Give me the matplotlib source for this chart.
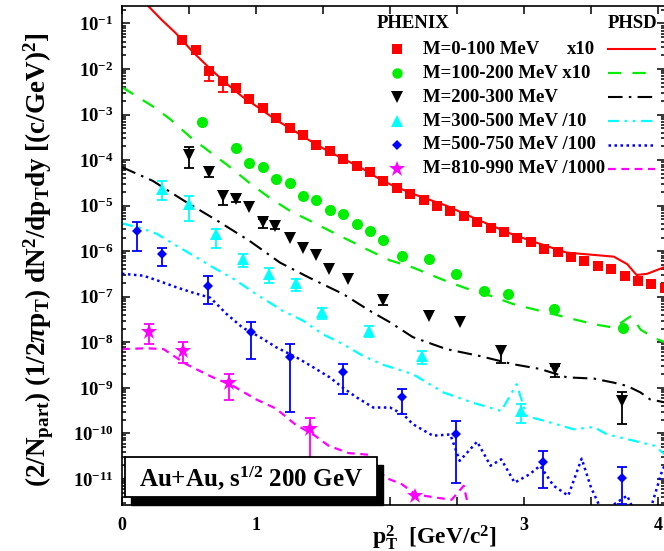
import numpy as np
import matplotlib
matplotlib.use('Agg')
import matplotlib.pyplot as plt
from matplotlib.lines import Line2D
from matplotlib.patches import Rectangle
from matplotlib.ticker import LogLocator, NullFormatter, FixedLocator

plt.rcParams['font.family'] = ['Liberation Serif', 'DejaVu Serif']
plt.rcParams['font.weight'] = 'bold'
plt.rcParams['mathtext.fontset'] = 'custom'
plt.rcParams['mathtext.rm'] = 'Liberation Serif:bold'
plt.rcParams['mathtext.it'] = 'Liberation Serif:bold:italic'
plt.rcParams['mathtext.bf'] = 'Liberation Serif:bold'

# ---- PHENIX data points ----
red_x = [0.45, 0.55, 0.65, 0.75, 0.85, 0.95, 1.05, 1.15, 1.25, 1.35, 1.45, 1.55, 1.65,
         1.75, 1.85, 1.95, 2.05, 2.15, 2.25, 2.35, 2.45, 2.55, 2.65, 2.75, 2.85, 2.95,
         3.05, 3.15, 3.25, 3.35, 3.45, 3.55, 3.65, 3.75, 3.85, 3.95, 4.05]
red_y = [4.4e-2, 2.6e-2, 9.0e-3, 5.4e-3, 3.9e-3, 2.2e-3, 1.4e-3, 8.5e-4, 5.1e-4, 3.5e-4,
         2.2e-4, 1.6e-4, 1.06e-4, 7.3e-5, 5.4e-5, 3.5e-5, 2.5e-5, 1.8e-5, 1.3e-5, 1.0e-5,
         7.8e-6, 6.0e-6, 4.3e-6, 3.3e-6, 2.6e-6, 2.0e-6, 1.56e-6, 1.12e-6, 9.4e-7, 7.3e-7,
         6.2e-7, 4.8e-7, 4.1e-7, 2.9e-7, 2.25e-7, 1.9e-7, 1.55e-7]
red_err_x = [0.65, 0.75]
red_err_lo = [5.4e-3, 3.2e-3]
red_err_hi = [1.1e-2, 6.6e-3]

grn_x = [0.6, 0.85, 0.95, 1.05, 1.15, 1.25, 1.35, 1.45, 1.55, 1.65, 1.75, 1.85, 1.95,
         2.09, 2.29, 2.49, 2.7, 2.88, 3.22, 3.74]
grn_y = [6.8e-4, 1.86e-4, 8.7e-5, 7.2e-5, 3.9e-5, 3.1e-5, 1.6e-5, 1.3e-5, 8.1e-6, 6.6e-6,
         4.0e-6, 2.8e-6, 1.8e-6, 7.9e-7, 6.8e-7, 3.2e-7, 1.35e-7, 1.15e-7, 5.4e-8, 2.1e-8]

blk_x = [0.5, 0.65, 0.755, 0.85, 0.95, 1.05, 1.14, 1.25, 1.35, 1.45, 1.545, 1.69, 1.945,
         2.29, 2.52, 2.83, 3.23, 3.73]
blk_y = [1.3e-4, 5.4e-5, 1.66e-5, 1.4e-5, 9.5e-6, 4.3e-6, 3.6e-6, 1.95e-6, 1.2e-6, 8.3e-7,
         4.0e-7, 2.45e-7, 8.5e-8, 3.8e-8, 2.75e-8, 6.5e-9, 2.6e-9, 5.1e-10]
blk_err_x = [0.5, 0.65, 0.755, 0.85, 1.05, 1.14, 1.945, 2.83, 3.23, 3.73]
blk_err_lo = [6.8e-5, 4.2e-5, 1.05e-5, 1.2e-5, 3.3e-6, 3.0e-6, 6.5e-8, 3.6e-9, 1.7e-9, 1.6e-10]
blk_err_hi = [1.9e-4, 6.9e-5, 2.1e-5, 1.7e-5, 5.2e-6, 4.5e-6, 1.1e-7, 8.3e-9, 3.0e-9, 8.3e-10]

cyn_x = [0.296, 0.5, 0.70, 0.90, 1.1, 1.30, 1.49, 1.84, 2.24, 2.98]
cyn_y = [2.35e-5, 1.1e-5, 2.4e-6, 6.8e-7, 3.2e-7, 2.0e-7, 4.6e-8, 1.8e-8, 5.0e-9, 3.1e-10]
cyn_err_lo = [1.35e-5, 4.7e-6, 1.2e-6, 4.4e-7, 2.0e-7, 1.35e-7, 3.2e-8, 1.3e-8, 3.4e-9, 1.7e-10]
cyn_err_hi = [3.5e-5, 1.66e-5, 3.1e-6, 8.9e-7, 4.2e-7, 2.5e-7, 5.7e-8, 2.3e-8, 6.5e-9, 4.4e-10]

blu_x = [0.11, 0.30, 0.644, 0.96, 1.254, 1.65, 2.09, 2.49, 3.14, 3.73]
blu_y = [2.8e-6, 8.7e-7, 1.74e-7, 1.66e-8, 4.8e-9, 2.2e-9, 6.2e-10, 9.5e-11, 2.3e-11, 1.07e-11]
blu_err_lo = [1.0e-6, 4.8e-7, 7.1e-8, 4.3e-9, 2.9e-10, 7.4e-10, 2.7e-10, 8.3e-12, 6.3e-12, 2.75e-12]
blu_err_hi = [4.3e-6, 1.2e-6, 2.9e-7, 2.75e-8, 9.3e-9, 3.4e-9, 9.5e-10, 1.85e-10, 4.2e-11, 1.8e-11]

mag_x = [0.204, 0.457, 0.80, 1.40, 2.19]
mag_y = [1.66e-8, 6.5e-9, 1.26e-9, 1.23e-10, 4.3e-12]
mag_err_x = [0.204, 0.457, 0.80, 1.40]
mag_err_lo = [9.1e-9, 3.6e-9, 5.4e-10, 2.8e-11]
mag_err_hi = [2.5e-8, 1.0e-8, 2.0e-9, 2.2e-10]

# ---- PHSD curves ----
red_line_x = [0.15, 0.2, 0.3, 0.4, 0.53, 0.66, 0.78, 0.9, 1.03, 1.15, 1.28, 1.4, 1.53, 1.65,
              1.78, 1.9, 2.0, 2.17, 2.42, 2.67, 2.92, 3.12, 3.32, 3.52, 3.67, 3.77, 3.84,
              3.92, 4.05]
red_line_y = [0.35, 0.234, 0.117, 6.2e-2, 2.35e-2, 1.0e-2, 4.8e-3, 2.45e-3, 1.35e-3, 7.6e-4,
              4.5e-4, 2.7e-4, 1.62e-4, 1.07e-4, 6.9e-5, 4.2e-5, 2.95e-5, 1.82e-5, 1.0e-5,
              4.7e-6, 2.3e-6, 1.45e-6, 9.3e-7, 8.3e-7, 7.6e-7, 5.2e-7, 3.0e-7, 3.2e-7, 4.5e-7]

grn_line_x = [0.0, 0.24, 0.36, 0.51, 0.66, 0.81, 0.96, 1.1, 1.25, 1.4, 1.55, 1.7, 1.85, 2.0,
              2.17, 2.42, 2.62, 2.75, 2.92, 3.12, 3.32, 3.52, 3.67, 3.8, 3.87, 3.97, 4.05]
grn_line_y = [4.0e-3, 1.45e-3, 7.9e-4, 3.2e-4, 1.48e-4, 6.9e-5, 3.0e-5, 1.5e-5, 7.8e-6,
              4.7e-6, 2.8e-6, 1.7e-6, 1.02e-6, 6.3e-7, 4.4e-7, 2.2e-7, 1.35e-7, 1.05e-7,
              6.9e-8, 4.9e-8, 3.5e-8, 2.5e-8, 2.1e-8, 3.8e-8, 1.9e-8, 1.25e-8, 1.0e-8]

blk_line_x = [0.0, 0.23, 0.46, 0.71, 0.95, 1.18, 1.4, 1.65, 1.85, 2.0, 2.17, 2.42, 2.67,
              2.92, 3.12, 3.32, 3.52, 3.67, 3.77, 3.87, 3.94, 4.05]
blk_line_y = [7.0e-5, 3.5e-5, 1.3e-5, 4.7e-6, 1.7e-6, 5.6e-7, 2.6e-7, 1.15e-7, 4.9e-8,
              2.75e-8, 1.3e-8, 7.1e-9, 5.0e-9, 3.3e-9, 2.6e-9, 1.7e-9, 1.6e-9, 1.3e-9,
              1.1e-9, 7.9e-10, 5.6e-10, 4.8e-10]

cyn_line_x = [0.0, 0.16, 0.26, 0.41, 0.56, 0.68, 0.83, 1.0, 1.2, 1.35, 1.5, 1.65, 1.8, 1.95,
              2.17, 2.4, 2.62, 2.83, 2.945, 3.02, 3.24, 3.37, 3.52, 3.62, 3.82, 3.97, 4.05]
cyn_line_y = [4.1e-6, 3.1e-6, 2.4e-6, 1.3e-6, 7.2e-7, 4.4e-7, 2.5e-7, 1.15e-7, 4.9e-8,
              3.0e-8, 1.5e-8, 9.1e-9, 5.0e-9, 3.2e-9, 2.0e-9, 7.9e-10, 4.7e-10, 3.1e-10,
              1.2e-9, 2.4e-10, 1.6e-10, 1.23e-10, 1.38e-10, 9.5e-11, 6.9e-11, 5.4e-11, 3.5e-11]

blu_line_x = [0.0, 0.16, 0.28, 0.41, 0.53, 0.66, 0.78, 0.9, 1.03, 1.15, 1.3, 1.43, 1.55,
              1.65, 1.75, 1.875, 2.0, 2.1, 2.17, 2.32, 2.45, 2.52, 2.65, 2.75, 2.83, 2.93,
              3.04, 3.12, 3.22, 3.33, 3.43, 3.5, 3.58, 3.67, 3.77, 3.82, 3.95, 4.03, 4.05]
blu_line_y = [3.2e-7, 2.9e-7, 2.2e-7, 1.6e-7, 1.23e-7, 9.5e-8, 4.2e-8, 2.1e-8, 1.3e-8,
              7.8e-9, 4.7e-9, 2.8e-9, 1.7e-9, 1.0e-9, 6.2e-10, 3.7e-10, 3.7e-10, 2.6e-10,
              1.6e-10, 8.9e-11, 9.5e-11, 2.5e-11, 6.6e-11, 1.95e-11, 2.7e-11, 8.3e-12,
              1.26e-11, 1.95e-11, 7.1e-12, 4.3e-12, 2.8e-11, 6.5e-12, 2.0e-12, 2.75e-12,
              4.3e-12, 2.0e-12, 2.5e-12, 1.5e-11, 2.0e-11]

mag_line_x = [0.0, 0.18, 0.31, 0.48, 0.66, 0.83, 1.0, 1.15, 1.29, 1.44, 1.54, 1.69, 1.84,
              1.965, 2.09, 2.19, 2.34, 2.46, 2.55, 2.6]
mag_line_y = [7.1e-9, 7.4e-9, 7.1e-9, 3.3e-9, 1.8e-9, 1.1e-9, 5.6e-10, 3.5e-10, 1.6e-10,
              8.9e-11, 5.4e-11, 3.7e-11, 3.4e-11, 1.07e-11, 7.6e-12, 4.6e-12, 3.9e-12,
              3.5e-12, 7.1e-12, 1.6e-12]

# ---- axes ----
x_ticks = [0, 1, 2, 3, 4]
x_ticklabels = ['0', '1', '', '3', '4']
x_minor = [0.5, 1.5, 2.5, 3.5]
y_ticks = [1e-1, 1e-2, 1e-3, 1e-4, 1e-5, 1e-6, 1e-7, 1e-8, 1e-9, 1e-10, 1e-11]
y_ticklabels = [r'$10^{-1}$', r'$10^{-2}$', r'$10^{-3}$', r'$10^{-4}$', r'$10^{-5}$',
                r'$10^{-6}$', r'$10^{-7}$', r'$10^{-8}$', r'$10^{-9}$', r'$10^{-10}$',
                r'$10^{-11}$']

legend_labels = ['M=0-100 MeV', 'M=100-200 MeV x10', 'M=200-300 MeV',
                 'M=300-500 MeV /10', 'M=500-750 MeV /100', 'M=810-990 MeV /1000']

RED, GRN, BLK, CYN, BLU, MAG = '#ff0000', '#00ee00', '#000000', '#00ffff', '#0000ff', '#ff00ff'

W, H = 664, 551
fig = plt.figure(figsize=(W / 100, H / 100), dpi=100)


def fx(px):
    return px / W


def fy(py):
    return 1 - py / H


ax = fig.add_axes([fx(122), fy(505), fx(665) - fx(122), fy(6) - fy(505)])
ax.set_yscale('log')
ax.set_xlim(0, 4.052)
ax.set_ylim(2.68e-12, 0.242)

# curves
ax.plot(red_line_x, red_line_y, color=RED, lw=1.5, zorder=2)
ax.plot(grn_line_x, grn_line_y, color=GRN, lw=1.6, dashes=(6, 5), zorder=2)
ax.plot(blk_line_x, blk_line_y, color=BLK, lw=1.5, dashes=(7, 3, 1.2, 3), zorder=2)
ax.plot(cyn_line_x, cyn_line_y, color=CYN, lw=1.6, dashes=(5, 2.5, 1.2, 2.5, 1.2, 2.5), zorder=2)
ax.plot(blu_line_x, blu_line_y, color=BLU, lw=1.8, dashes=(1, 1.4), zorder=2)
ax.plot(mag_line_x, mag_line_y, color=MAG, lw=1.6, dashes=(3.5, 2.5), zorder=2)


def errs(xs, lo, hi, allx, ally, col):
    yv = np.array([ally[allx.index(v)] for v in xs])
    ax.errorbar(xs, yv, yerr=[yv - np.array(lo), np.array(hi) - yv], fmt='none',
                ecolor=col, elinewidth=1.3, capsize=3.8, capthick=1.3, zorder=3)


errs(red_err_x, red_err_lo, red_err_hi, red_x, red_y, RED)
errs(blk_err_x, blk_err_lo, blk_err_hi, blk_x, blk_y, BLK)
errs(cyn_x, cyn_err_lo, cyn_err_hi, cyn_x, cyn_y, CYN)
errs(blu_x, blu_err_lo, blu_err_hi, blu_x, blu_y, BLU)
errs(mag_err_x, mag_err_lo, mag_err_hi, mag_x, mag_y, MAG)

ax.plot(red_x, red_y, 's', color=RED, ms=7.5, mew=0, zorder=4)
ax.plot(grn_x, grn_y, 'o', color=GRN, ms=8, mew=0, zorder=4)
ax.plot(blk_x, blk_y, 'v', color=BLK, ms=8.5, mew=0, zorder=4)
ax.plot(cyn_x, cyn_y, '^', color=CYN, ms=8.5, mew=0, zorder=4)
ax.plot(blu_x, blu_y, 'D', color=BLU, ms=5.5, mew=0, zorder=4)
ax.plot(mag_x, mag_y, '*', color=MAG, ms=12, mew=0, zorder=4)

# ticks
ax.xaxis.set_major_locator(FixedLocator(x_ticks))
ax.xaxis.set_minor_locator(FixedLocator(x_minor))
ax.set_xticklabels(x_ticklabels)
ax.yaxis.set_major_locator(FixedLocator(y_ticks))
ax.set_yticklabels(y_ticklabels)
ax.yaxis.set_minor_locator(LogLocator(base=10, subs=np.arange(2, 10), numticks=100))
ax.yaxis.set_minor_formatter(NullFormatter())
ax.tick_params(which='both', direction='in', top=True, right=True, width=1.1, colors='black')
ax.tick_params(axis='x', which='both', length=5.5, labelsize=13, pad=9)
ax.tick_params(axis='y', which='major', length=5.5, labelsize=13.5, pad=6)
ax.tick_params(axis='y', which='minor', length=3)
for s in ax.spines.values():
    s.set_linewidth(1.2)

# axis titles
fig.text(fx(39), fy(260), r'(2/N$_{\rm part}$) (1/2$\pi$p$_{\rm T}$) dN$^{2}$/dp$_{\rm T}$dy [(c/GeV)$^{2}$]',
         rotation=90, ha='center', va='center', fontsize=19.5, fontweight='bold')
fig.text(fx(372), fy(538), r'p$_{\rm T}^{2}$  [GeV/c$^{2}$]', ha='left', va='center',
         fontsize=17, fontweight='bold')

# legend
fig.text(fx(377), fy(24), 'PHENIX', ha='left', va='center', fontsize=13.5, fontweight='bold')
fig.text(fx(608), fy(24), 'PHSD', ha='left', va='center', fontsize=13.5, fontweight='bold')
row_y = [49, 73, 97, 121, 145, 169]
mk = [('s', RED, 7), ('o', GRN, 7.5), ('v', BLK, 8), ('^', CYN, 8), ('D', BLU, 5), ('*', MAG, 12)]
ls = [dict(color=RED, lw=1.5), dict(color=GRN, lw=1.6, dashes=(6, 5)),
      dict(color=BLK, lw=1.5, dashes=(7, 3, 1.2, 3)),
      dict(color=CYN, lw=1.6, dashes=(5, 2.5, 1.2, 2.5, 1.2, 2.5)),
      dict(color=BLU, lw=1.8, dashes=(1, 1.4)), dict(color=MAG, lw=1.6, dashes=(3.5, 2.5))]
for i, lab in enumerate(legend_labels):
    yy = fy(row_y[i])
    m, c, s = mk[i]
    fig.add_artist(Line2D([fx(397)], [yy], marker=m, color=c, ms=s, mew=0, transform=fig.transFigure))
    fig.text(fx(423), yy, lab, ha='left', va='center', fontsize=13.5, fontweight='bold')
    fig.add_artist(Line2D([fx(608), fx(655)], [yy, yy], transform=fig.transFigure, **ls[i]))
fig.text(fx(567), fy(row_y[0]), 'x10', ha='left', va='center', fontsize=13.5, fontweight='bold')

# system label box with shadow
fig.add_artist(Rectangle((fx(131), fy(505)), fx(383) - fx(131), fy(465) - fy(505),
                         transform=fig.transFigure, facecolor='black', edgecolor='black', zorder=5))
fig.add_artist(Rectangle((fx(125), fy(497)), fx(377) - fx(125), fy(457) - fy(497),
                         transform=fig.transFigure, facecolor='white', edgecolor='black',
                         lw=1.3, zorder=6))
fig.text(fx(251), fy(478), r'Au+Au, s$^{1/2}$ 200 GeV', ha='center', va='center',
         fontsize=18, fontweight='bold', zorder=7)

fig.savefig('out.png', dpi=100)
